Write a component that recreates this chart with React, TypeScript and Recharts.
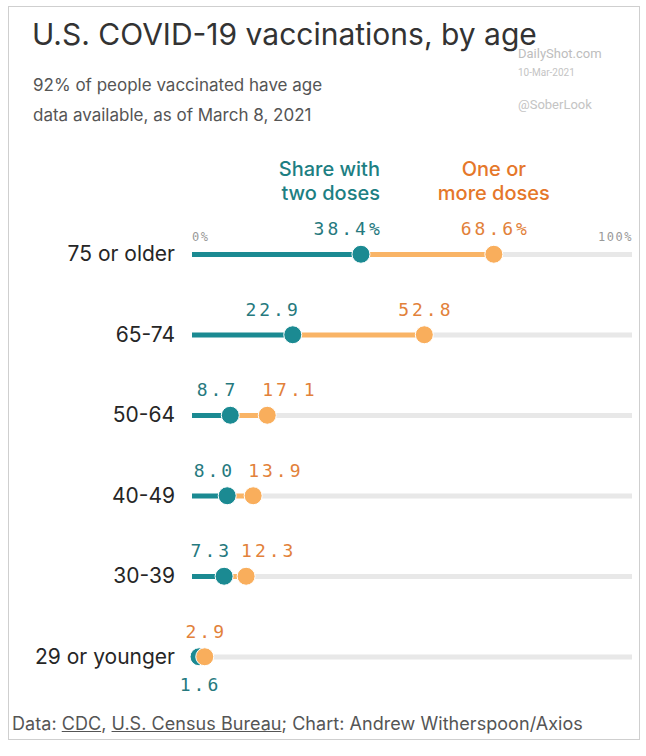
import React from 'react';
import { ComposedChart, Bar, Line, XAxis, YAxis } from 'recharts';

const categories = ['75 or older', '65-74', '50-64', '40-49', '30-39', '29 or younger'];
const twoDoses = [38.4, 22.9, 8.7, 8.0, 7.3, 1.6];
const oneOrMore = [68.6, 52.8, 17.1, 13.9, 12.3, 2.9];
const xTicks = [0, 100];

const data = categories.map((cat, i) => ({
  cat,
  two: twoDoses[i],
  one: oneOrMore[i],
  gap: oneOrMore[i] - twoDoses[i],
  rest: 100 - oneOrMore[i],
}));

const TEAL = '#1b8a92';
const TEAL_TEXT = '#26797e';
const ORANGE = '#f9ae5c';
const ORANGE_LINE = '#f9b466';
const ORANGE_TEXT = '#e2813a';
const GRAY = '#e8e8e8';
const MONO = '"DejaVu Sans Mono", "Liberation Mono", monospace';
const SANS = 'Inter, Roboto, "Noto Sans", sans-serif';
const LS = 3;

const numStyle = { fontFamily: MONO, fontSize: 18, letterSpacing: LS } as const;
const legendStyle = { fontFamily: SANS, fontSize: 20, fontWeight: 500 } as const;

const TealDot = (props: any) => {
  const { cx, cy, index, payload } = props;
  if (cx == null || cy == null) return <g key={`t${index}`} />;
  const txt = payload.two.toFixed(1);
  const crowded = payload.one - payload.two < 3;
  return (
    <g key={`t${index}`}>
      <circle cx={cx} cy={cy} r={9} fill={TEAL} stroke="#fff" strokeWidth={1} />
      {crowded ? (
        <text x={cx + LS / 2} y={cy + 34} textAnchor="middle" fill={TEAL_TEXT} style={numStyle}>
          {txt}
        </text>
      ) : (
        <text x={cx + 5 + LS} y={cy - 19} textAnchor="end" fill={TEAL_TEXT} style={numStyle}>
          {txt}
        </text>
      )}
      {index === 0 && (
        <>
          <text x={cx + 5 + LS} y={cy - 19} fill={TEAL_TEXT} style={numStyle}>%</text>
          <text x={cx + 19} y={cy - 78} textAnchor="end" fill="#1d7f83" style={legendStyle}>
            Share with
          </text>
          <text x={cx + 19} y={cy - 54} textAnchor="end" fill="#1d7f83" style={legendStyle}>
            two doses
          </text>
        </>
      )}
    </g>
  );
};

const OrangeDot = (props: any) => {
  const { cx, cy, index, payload } = props;
  if (cx == null || cy == null) return <g key={`o${index}`} />;
  const txt = payload.one.toFixed(1) + (index === 0 ? '%' : '');
  const wide = payload.one - payload.two > 20;
  const crowded = payload.one - payload.two < 3;
  let label;
  if (wide || crowded) {
    label = (
      <text x={cx + LS / 2} y={cy - 19} textAnchor="middle" fill={ORANGE_TEXT} style={numStyle}>
        {txt}
      </text>
    );
  } else {
    label = (
      <text x={cx - 5} y={cy - 19} textAnchor="start" fill={ORANGE_TEXT} style={numStyle}>
        {txt}
      </text>
    );
  }
  return (
    <g key={`o${index}`}>
      <circle cx={cx} cy={cy} r={9} fill={ORANGE} stroke="#fff" strokeWidth={1} />
      {label}
      {index === 0 && (
        <>
          <text x={cx} y={cy - 78} textAnchor="middle" fill="#e5772a" style={legendStyle}>
            One or
          </text>
          <text x={cx} y={cy - 54} textAnchor="middle" fill="#e5772a" style={legendStyle}>
            more doses
          </text>
        </>
      )}
    </g>
  );
};

const XTick = (props: any) => {
  const { x, y, payload } = props;
  const v = payload.value;
  return (
    <text
      x={v === 0 ? x : x + 1}
      y={y + 27}
      textAnchor={v === 0 ? 'start' : 'end'}
      fill="#999"
      style={{ fontFamily: MONO, fontSize: 12, letterSpacing: 1.5 }}
    >
      {`${v}%`}
    </text>
  );
};

const YTick = (props: any) => {
  const { x, y, payload } = props;
  return (
    <text x={x} y={y + 7} textAnchor="end" fill="#262626" style={{ fontFamily: SANS, fontSize: 21 }}>
      {payload.value}
    </text>
  );
};

export default function App() {
  return (
    <div
      style={{
        position: 'absolute',
        top: 0,
        left: 0,
        width: 646,
        height: 756,
        background: '#fff',
        fontFamily: SANS,
        overflow: 'hidden',
      }}
    >
      <div
        style={{
          position: 'absolute',
          left: 8,
          top: 6,
          width: 632,
          height: 734,
          border: '1px solid #cfcfcf',
          boxSizing: 'border-box',
        }}
      />
      <div style={{ position: 'absolute', left: 518, top: 46, fontSize: 13, color: '#bdbdbd', fontFamily: 'Roboto' }}>DailyShot.com</div>
      <div style={{ position: 'absolute', left: 518, top: 67, fontSize: 10, color: '#c4c4c4', fontFamily: 'Roboto' }}>10-Mar-2021</div>
      <div style={{ position: 'absolute', left: 518, top: 97, fontSize: 13, color: '#c4c4c4', fontFamily: 'Roboto' }}>@SoberLook</div>
      <div
        style={{
          position: 'absolute',
          left: 32,
          top: 16,
          fontSize: 30,
          color: '#333',
          whiteSpace: 'nowrap',
        }}
      >
        U.S. COVID-19 vaccinations, by age
      </div>
      <div style={{ position: 'absolute', left: 33, top: 70, fontSize: 17, color: '#555', lineHeight: '30px' }}>
        92% of people vaccinated have age
        <br />
        data available, as of March 8, 2021
      </div>
      <div style={{ position: 'absolute', left: 0, top: 0 }}>
        <ComposedChart
          width={646}
          height={756}
          data={data}
          layout="vertical"
          margin={{ top: 184, right: 14, bottom: 59, left: 0 }}
          barSize={5}
        >
          <XAxis
            type="number"
            orientation="top"
            domain={[0, 100]}
            ticks={xTicks}
            axisLine={false}
            tickLine={false}
            tickSize={0}
            tickMargin={0}
            height={30}
            tick={<XTick />}
            interval={0}
          />
          <YAxis
            type="category"
            dataKey="cat"
            width={192}
            axisLine={false}
            tickLine={false}
            tickSize={0}
            tickMargin={17}
            tick={<YTick />}
            interval={0}
          />
          <Bar dataKey="two" stackId="a" fill={TEAL} isAnimationActive={false} />
          <Bar dataKey="gap" stackId="a" fill={ORANGE_LINE} isAnimationActive={false} />
          <Bar dataKey="rest" stackId="a" fill={GRAY} isAnimationActive={false} />
          <Line dataKey="two" stroke="none" dot={TealDot} activeDot={false} isAnimationActive={false} />
          <Line dataKey="one" stroke="none" dot={OrangeDot} activeDot={false} isAnimationActive={false} />
        </ComposedChart>
      </div>
      <div style={{ position: 'absolute', left: 12, top: 713, fontSize: 18, color: '#555', whiteSpace: 'nowrap', letterSpacing: 0.05 }}>
        Data: <span style={{ textDecoration: 'underline' }}>CDC</span>,{' '}
        <span style={{ textDecoration: 'underline' }}>U.S. Census Bureau</span>; Chart: Andrew Witherspoon/Axios
      </div>
    </div>
  );
}
